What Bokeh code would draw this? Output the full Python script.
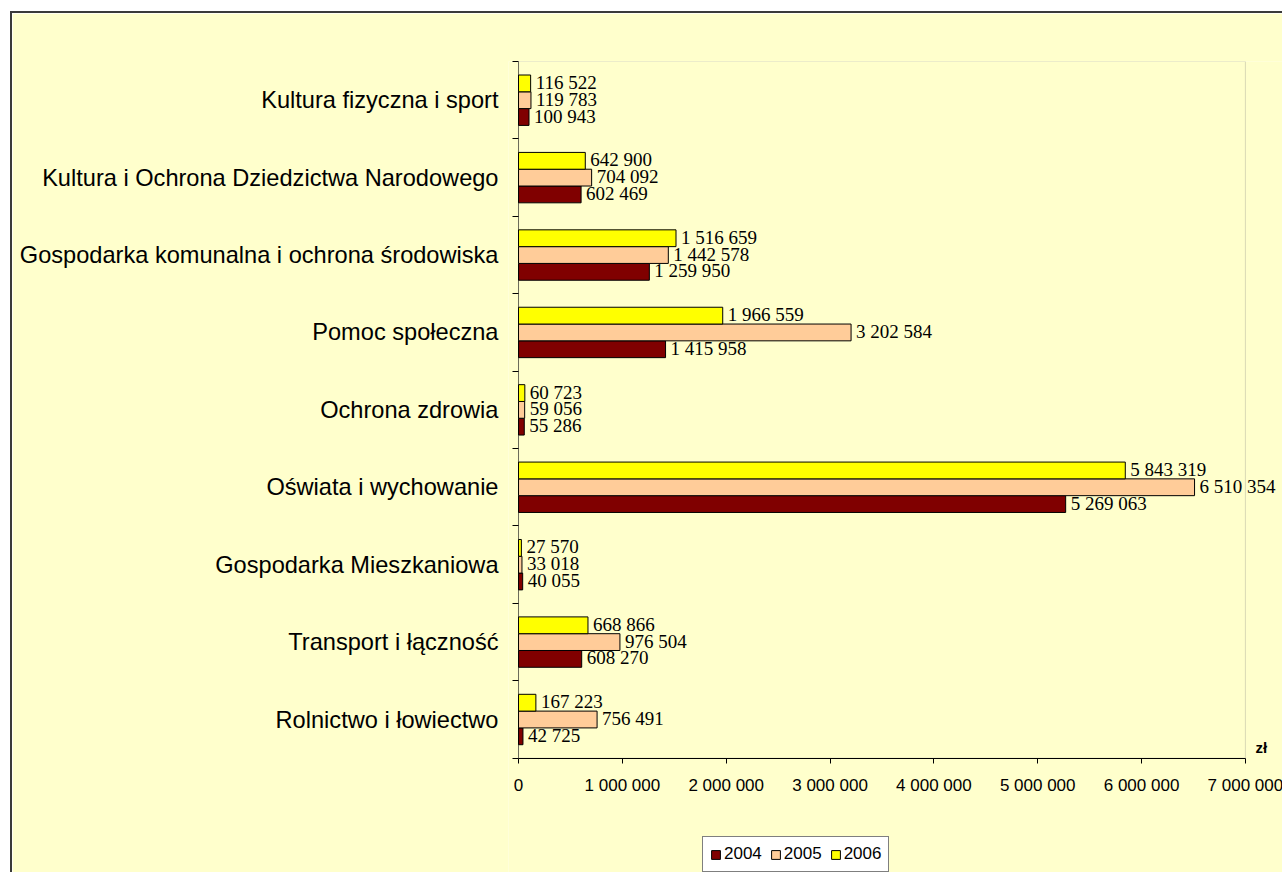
from bokeh.plotting import figure
from bokeh.models import (ColumnDataSource, FixedTicker, CustomJSTickFormatter, Range1d,
                          Legend, LegendItem, Label, BoxAnnotation)
from bokeh.core.properties import value
from bokeh.embed import file_html
from bokeh.resources import INLINE

# ---- data (bottom to top, as drawn) ----
categories = [
    "Rolnictwo i łowiectwo",
    "Transport i łączność",
    "Gospodarka Mieszkaniowa",
    "Oświata i wychowanie",
    "Ochrona zdrowia",
    "Pomoc społeczna",
    "Gospodarka komunalna i ochrona środowiska",
    "Kultura i Ochrona Dziedzictwa Narodowego",
    "Kultura fizyczna i sport",
]
v2004 = [42725, 608270, 40055, 5269063, 55286, 1415958, 1259950, 602469, 100943]
v2005 = [756491, 976504, 33018, 6510354, 59056, 3202584, 1442578, 704092, 119783]
v2006 = [167223, 668866, 27570, 5843319, 60723, 1966559, 1516659, 642900, 116522]
years = ["2004", "2005", "2006"]
x_ticks = [0, 1000000, 2000000, 3000000, 4000000, 5000000, 6000000, 7000000]
x_tick_labels = ["0", "1 000 000", "2 000 000", "3 000 000", "4 000 000",
                 "5 000 000", "6 000 000", "7 000 000"]
unit_label = "zł"

colors = {"2004": "#800000", "2005": "#FFCC99", "2006": "#FFFF00"}
offsets = {"2004": -0.217, "2005": 0.0, "2006": 0.217}
series = {"2004": v2004, "2005": v2005, "2006": v2006}

BG = "#FFFFCC"
N = len(categories)
X_MAX = x_ticks[-1]
# The plotting frame runs on past the drawn chart box (left, right and below) so
# that overflowing labels, the axis labels and the legend are not clipped.
PX_PER_X = 725 / X_MAX
X_START = -10 / PX_PER_X
X_END = 766 / PX_PER_X
Y_START = -N * 116 / 695

p = figure(width=1274, height=861, output_backend="svg", toolbar_location=None,
           x_range=Range1d(X_START, X_END), y_range=Range1d(Y_START, N),
           background_fill_color=BG, border_fill_color=BG,
           min_border_left=496, min_border_top=48, min_border_right=0,
           min_border_bottom=0)
p.styles = {"margin-left": "10px", "margin-top": "11px",
            "border-left": "2px solid #3a3a3a", "border-top": "2px solid #3a3a3a"}
p.outline_line_color = None
p.xgrid.visible = False
p.ygrid.visible = False

# visible chart-area box (grey), ending at the last x tick
p.add_layout(BoxAnnotation(left=0, right=X_MAX, bottom=0, top=N,
                           fill_alpha=0, line_color="#808080", line_width=1,
                           level="underlay"))
# black value-axis line at x = 0
p.add_layout(BoxAnnotation(left=0, right=0, bottom=0, top=N,
                           fill_alpha=0, line_color="black", line_width=1,
                           level="underlay"))

def fmt(v):
    return f"{v:,}".replace(",", " ")

renderers = {}
for yr in years:
    vals = series[yr]
    src = ColumnDataSource(dict(
        y=[i + 0.5 + offsets[yr] for i in range(N)],
        right=vals,
        lab=[fmt(v) for v in vals],
    ))
    r = p.hbar(y="y", left=0, right="right", height=0.217, source=src,
               fill_color=colors[yr], line_color="black", line_width=1)
    renderers[yr] = r
    p.text(x="right", y="y", text="lab", source=src, x_offset=5, y_offset=-1,
           text_font=value("Liberation Serif"), text_font_size="19px",
           text_baseline="middle", text_align="left", text_color="black")

# x axis, fixed at y = 0 inside the frame
xa = p.xaxis[0]
xa.fixed_location = 0
xa.bounds = (0, X_MAX)
xa.ticker = FixedTicker(ticks=x_ticks, minor_ticks=[])
xa.major_label_overrides = {t: l for t, l in zip(x_ticks, x_tick_labels)}
xa.major_label_text_font = "Liberation Sans"
xa.major_label_text_font_size = "17px"
xa.major_label_text_color = "black"
xa.major_tick_out = 5
xa.major_tick_in = 0
xa.major_label_standoff = 13
xa.axis_line_color = "black"
xa.major_tick_line_color = "black"

# y axis: labels at category centres, tick marks at boundaries (reaching x = 0)
ya = p.yaxis[0]
ya.axis_line_color = None
ya.ticker = FixedTicker(ticks=[i + 0.5 for i in range(N)],
                        minor_ticks=list(range(N + 1)))
ya.formatter = CustomJSTickFormatter(args=dict(labels=categories),
                                     code="return labels[Math.round(tick - 0.5)]")
ya.major_label_text_font = "Liberation Sans"
ya.major_label_text_font_size = "23.6px"
ya.major_label_text_color = "black"
ya.major_tick_out = 0
ya.major_tick_in = 0
ya.minor_tick_out = -4
ya.minor_tick_in = 10
ya.minor_tick_line_color = "black"
ya.major_label_standoff = 10

# unit label
p.add_layout(Label(x=X_MAX, y=0.14, text=unit_label, x_offset=10,
                   text_font="Liberation Sans", text_font_style="bold",
                   text_font_size="15px", text_color="black",
                   text_baseline="middle"))

legend = Legend(items=[LegendItem(label=yr, renderers=[renderers[yr]]) for yr in years],
                orientation="horizontal", location=(194, 2),
                label_text_font="Liberation Sans", label_text_font_size="17px",
                label_text_color="black", glyph_width=11, glyph_height=11,
                label_height=20, label_standoff=3, spacing=8, padding=7, margin=0,
                border_line_color="black", border_line_width=1,
                background_fill_color="white", background_fill_alpha=1)
p.add_layout(legend)

open("out.html", "w").write(file_html(p, INLINE))
